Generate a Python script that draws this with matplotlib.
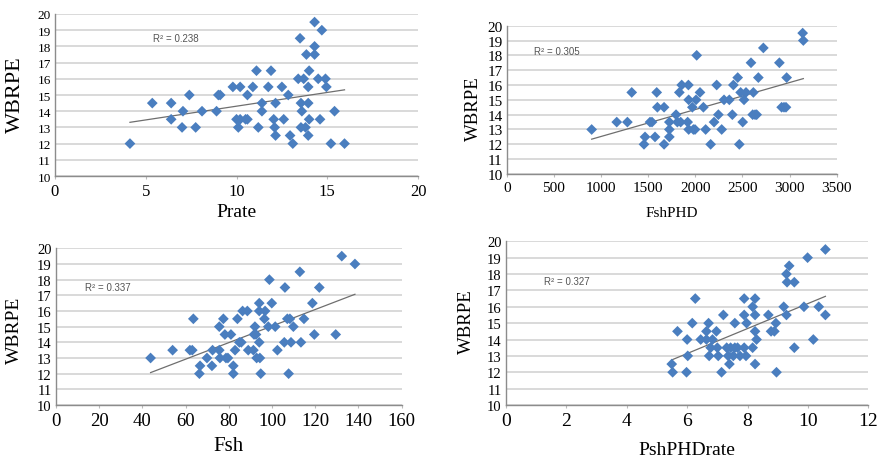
import numpy as np
import matplotlib.pyplot as plt

# WBRPE against four predictors
prate_x = [4.13, 5.36, 6.4, 6.4, 7.0, 7.05, 7.4, 7.75, 8.1, 8.9, 9.0, 9.1, 9.8, 10.2,
           10.0, 10.2, 10.1, 10.5, 10.6, 10.6, 10.9, 11.1, 11.2, 11.4, 11.4, 11.9, 11.75,
           12.15, 12.05, 12.1, 12.15, 12.5, 12.6, 12.85, 12.95, 13.1, 13.4, 13.5, 13.55,
           13.6, 13.55, 13.7, 13.8, 13.85, 13.95, 13.95, 13.95, 14.0, 14.0, 14.3, 14.3,
           14.3, 14.5, 14.7, 14.6, 14.9, 14.95, 15.4, 15.2, 15.95]
prate_y = [12, 14.5, 14.5, 13.5, 13, 14, 15, 13, 14, 14, 15, 15, 15.5, 15.5,
           13.5, 13.5, 13, 13.5, 13.5, 15, 15.5, 16.5, 13, 14.5, 14, 16.5, 15.5,
           14.5, 13.5, 13, 12.5, 15.5, 13.5, 15, 12.5, 12, 16, 18.5, 14.5,
           14, 13, 16, 13, 17.5, 14.5, 15.5, 12.5, 16.5, 13.5, 19.5, 18,
           17.5, 16, 19, 13.5, 16, 15.5, 14, 12, 12]

fshphd_x = [901, 1167, 1280, 1326, 1456, 1467, 1520, 1541, 1573, 1591, 1598, 1669, 1669,
            1725, 1725, 1725, 1796, 1810, 1831, 1845, 1856, 1919, 1927, 1930, 1930, 1969,
            1980, 1997, 2015, 2008, 2050, 2086, 2110, 2163, 2199, 2227, 2245, 2280, 2305,
            2361, 2393, 2404, 2450, 2467, 2481, 2503, 2517, 2538, 2591, 2616, 2609, 2634,
            2651, 2669, 2722, 2892, 2916, 2941, 2962, 2969, 3139, 3146]
fshphd_y = [13, 13.5, 13.5, 15.5, 12, 12.5, 13.5, 13.5, 12.5, 15.5, 14.5, 14.5, 12,
            13.5, 13, 12.5, 14, 13.5, 15.5, 13.5, 16, 13.5, 16, 15, 13, 14.5,
            13, 13, 18, 15, 15.5, 14.5, 13, 12, 13.5, 16, 14, 13, 15,
            15, 14, 16, 16.5, 12, 15.5, 13.5, 15, 15.5, 17.5, 15.5, 14, 14,
            14, 16.5, 18.5, 17.5, 14.5, 14.5, 14.5, 16.5, 19.5, 19]

fsh_x = [43.8, 54.0, 62.0, 63.1, 63.6, 66.4, 66.7, 69.9, 72.2, 72.5, 75.6, 75.6, 75.9,
         77.5, 78.2, 78.7, 79.6, 81.0, 82.1, 82.1, 82.9, 84.0, 84.9, 85.8, 86.4, 88.6,
         89.0, 91.4, 91.7, 92.1, 92.6, 92.9, 94.1, 94.1, 94.1, 94.4, 94.8, 96.5, 96.8,
         98.3, 98.8, 99.9, 101.5, 102.5, 106.0, 105.7, 107.1, 107.7, 108.3, 108.8, 109.9,
         112.9, 113.4, 114.8, 118.7, 119.6, 121.9, 129.5, 132.3, 138.4]
fsh_y = [13, 13.5, 13.5, 13.5, 15.5, 12, 12.5, 13, 12.5, 13.5, 15, 13.5, 13,
         15.5, 14.5, 13, 13, 14.5, 12, 12.5, 13.5, 15.5, 14, 14, 16, 16,
         13.5, 13.5, 14.5, 15, 14.5, 13, 16.5, 16, 14, 13, 12, 15.5, 16,
         15, 18, 16.5, 15, 13.5, 17.5, 14, 15.5, 12, 15.5, 14, 15,
         18.5, 14, 15.5, 16.5, 14.5, 17.5, 14.5, 19.5, 19]

pshphdrate_x = [5.49, 5.52, 5.68, 5.98, 6.0, 6.02, 6.17, 6.27, 6.45, 6.64, 6.64, 6.71,
                6.73, 6.78, 6.84, 6.97, 7.0, 7.03, 7.14, 7.2, 7.31, 7.36, 7.4, 7.44,
                7.53, 7.58, 7.58, 7.67, 7.75, 7.89, 7.89, 7.89, 7.95, 7.97, 8.17, 8.17,
                8.25, 8.25, 8.25, 8.25, 8.3, 8.69, 8.78, 8.89, 8.94, 8.96, 9.2, 9.29,
                9.29, 9.31, 9.38, 9.55, 9.55, 9.87, 9.99, 10.18, 10.36, 10.58, 10.58]
pshphdrate_y = [12.5, 12, 14.5, 12, 14, 13, 15, 16.5, 14, 14.5, 14, 15,
                13, 13.5, 14, 14.5, 13.5, 13, 12, 15.5, 13.5, 13, 12.5, 13.5,
                13, 15, 13.5, 13.5, 13, 16.5, 15.5, 13.5, 13, 15, 16, 13.5,
                16.5, 15.5, 14.5, 12.5, 14, 15.5, 14.5, 14.5, 15, 12, 16, 15.5,
                18, 17.5, 18.5, 17.5, 13.5, 16, 19, 14, 16, 15.5, 19.5]

r2_labels = ["R² = 0.238", "R² = 0.305", "R² = 0.337", "R² = 0.327"]
x_names = ["Prate", "FshPHD", "Fsh", "PshPHDrate"]
x_ticks = [[0, 5, 10, 15, 20],
           [0, 500, 1000, 1500, 2000, 2500, 3000, 3500],
           [0, 20, 40, 60, 80, 100, 120, 140, 160],
           [0, 2, 4, 6, 8, 10, 12]]
y_ticks = list(range(10, 21))

# per-panel layout: axes rect, label positions, font sizes, R2 text position
panels = [
    dict(x=prate_x, y=prate_y, rect=[0.0622, 0.6152, 0.4107, 0.3522],
         ylab=(-0.110, 0.506, 16), xlab=(-0.222, 14), xt=12, yt=9.5, r2=(5.4, 18.5)),
    dict(x=fshphd_x, y=fshphd_y, rect=[0.5732, 0.6196, 0.3733, 0.3224],
         ylab=(-0.101, 0.448, 13.5), xlab=(-0.26, 11), xt=11, yt=11, r2=(290, 18.3)),
    dict(x=fsh_x, y=fsh_y, rect=[0.0633, 0.1174, 0.3910, 0.3406],
         ylab=(-0.119, 0.482, 14), xlab=(-0.26, 15), xt=13.5, yt=10.5, r2=(13.5, 17.5)),
    dict(x=pshphdrate_x, y=pshphdrate_y, rect=[0.5724, 0.1174, 0.4098, 0.3559],
         ylab=(-0.108, 0.516, 13.5), xlab=(-0.27, 14), xt=14, yt=10.5, r2=(1.25, 17.6)),
]

plt.rcParams["font.family"] = ["Liberation Serif", "DejaVu Serif"]

fig = plt.figure(figsize=(8.84, 4.60), dpi=100)

for i, p in enumerate(panels):
    ax = fig.add_axes(p["rect"])
    xs = np.array(p["x"], dtype=float)
    ys = np.array(p["y"], dtype=float)

    ax.scatter(xs, ys, marker="D", s=30, color="#4a7ebf", edgecolors="none", zorder=3)

    # linear trend line over the data range
    k, b = np.polyfit(xs, ys, 1)
    xl = np.array([xs.min(), xs.max()])
    ax.plot(xl, k * xl + b, color="#6e6e6e", lw=0.9, zorder=2)

    ax.text(p["r2"][0], p["r2"][1], r2_labels[i], fontsize=7, color="#555555",
            family=["Liberation Sans", "DejaVu Sans"], va="center", ha="left")

    ax.set_xlim(x_ticks[i][0], x_ticks[i][-1])
    ax.set_ylim(10, 20)
    ax.set_xticks(x_ticks[i])
    ax.set_yticks(y_ticks)
    ax.tick_params(axis="x", labelsize=p["xt"], length=2, color="#bbbbbb", pad=3)
    ax.tick_params(axis="y", labelsize=p["yt"], length=0, pad=3)

    ax.grid(axis="y", color="#d9d9d9", lw=1.4)
    ax.set_axisbelow(True)
    for side in ["top", "right"]:
        ax.spines[side].set_visible(False)
    for side in ["left", "bottom"]:
        ax.spines[side].set_color("#8c8c8c")
        ax.spines[side].set_linewidth(1.0)

    ax.set_xlabel(x_names[i], fontsize=p["xlab"][1], va="center")
    ax.xaxis.set_label_coords(0.5, p["xlab"][0])
    ax.set_ylabel("WBRPE", fontsize=p["ylab"][2], va="center", ha="center")
    ax.yaxis.set_label_coords(p["ylab"][0], p["ylab"][1])

fig.savefig("out.png", dpi=100)
